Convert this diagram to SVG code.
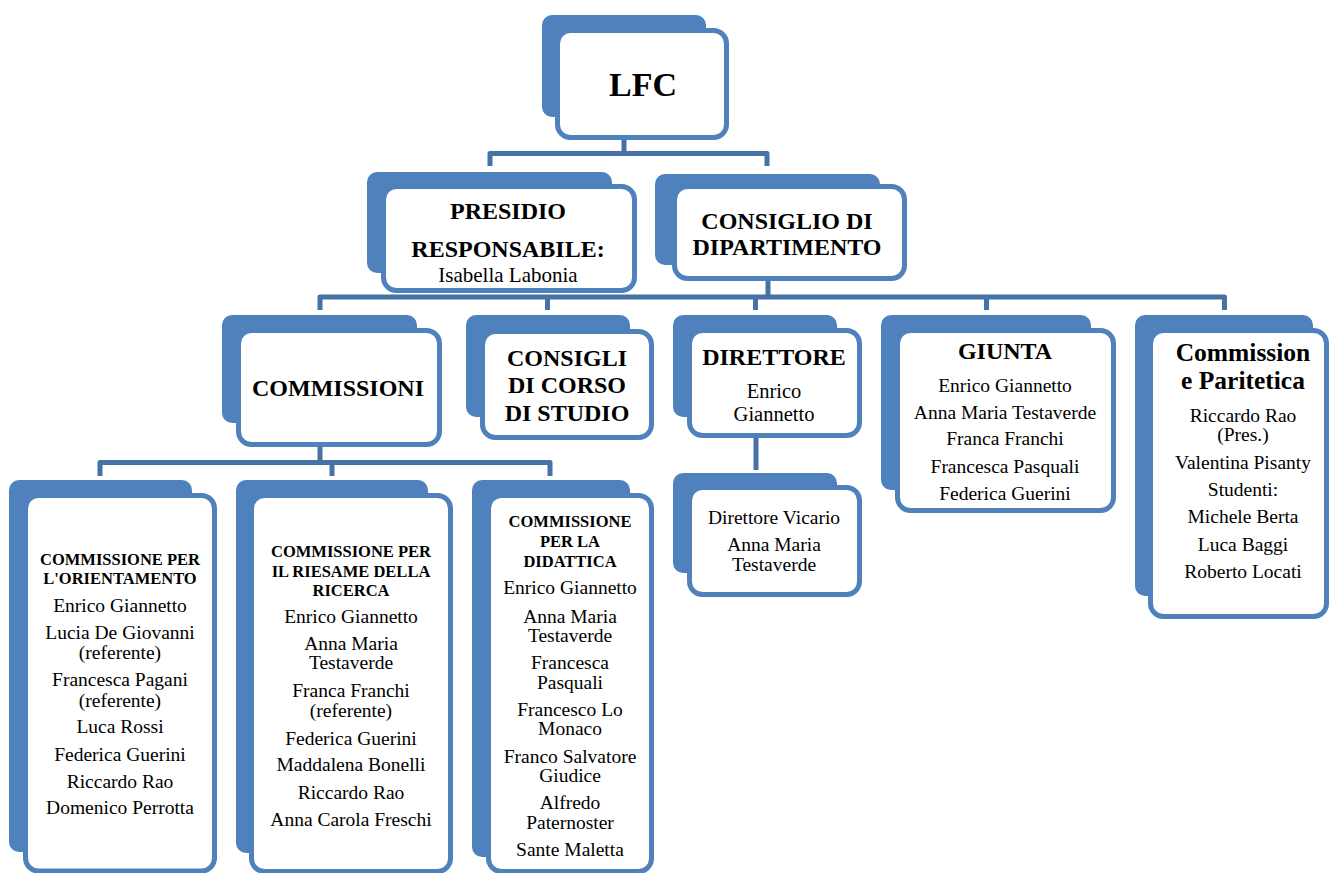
<svg xmlns="http://www.w3.org/2000/svg" width="1330" height="873" viewBox="0 0 1330 873">
<style>
.tab{fill:#4F81BD}
.box{fill:#fff;stroke:#4F81BD;stroke-width:5}
.conn{fill:none;stroke:#4672A6;stroke-width:5;stroke-linejoin:round}
text{font-family:"Liberation Serif",serif;fill:#000;text-anchor:middle}
.h{font-weight:bold;font-size:24px}
.s{font-weight:bold;font-size:16.5px}
.n{font-size:19.5px}
.m{font-size:21px}
</style>
<rect width="1330" height="873" fill="#fff"/>
<g id="connectors">
<path class="conn" d="M624 137V153.5M490 166V153.5H767V166"/>
<path class="conn" d="M768 279V297M320 310V297H1224.5V310M547.5 297V310M755.5 297V310M986.5 297V310"/>
<path class="conn" d="M320 445V462.5M100 476V462.5H550V476M332 462.5V476"/>
<path class="conn" d="M756 436V470"/>
</g>
<g id="lfc">
<rect class="tab" x="542" y="15" width="164" height="102" rx="10"/>
<rect class="box" x="557.5" y="30.5" width="169" height="107" rx="13"/>
<text x="643" y="96" style="font-weight:bold;font-size:34px">LFC</text>
</g>
<g id="presidio">
<rect class="tab" x="367" y="172" width="245" height="101" rx="10"/>
<rect class="box" x="383.5" y="186.5" width="251" height="104" rx="13"/>
<text class="h" x="508" y="219">PRESIDIO</text>
<text class="h" x="508" y="257">RESPONSABILE:</text>
<text class="m" x="508" y="282">Isabella Labonia</text>
</g>
<g id="consiglio-dipartimento">
<rect class="tab" x="655" y="174" width="225" height="91" rx="10"/>
<rect class="box" x="674.5" y="186.5" width="230" height="92" rx="13"/>
<text class="h" x="787" y="229">CONSIGLIO DI</text>
<text class="h" x="787" y="255">DIPARTIMENTO</text>
</g>
<g id="commissioni">
<rect class="tab" x="222" y="315" width="195" height="108" rx="10"/>
<rect class="box" x="238.5" y="330.5" width="201" height="114" rx="13"/>
<text class="h" x="338" y="396">COMMISSIONI</text>
</g>
<g id="consigli-corso">
<rect class="tab" x="466" y="315" width="164" height="102" rx="10"/>
<rect class="box" x="482.5" y="331.5" width="169" height="106" rx="13"/>
<text class="h" x="567" y="366">CONSIGLI</text>
<text class="h" x="567" y="393">DI CORSO</text>
<text class="h" x="567" y="421">DI STUDIO</text>
</g>
<g id="direttore">
<rect class="tab" x="673" y="315" width="164" height="102" rx="10"/>
<rect class="box" x="689.5" y="330.5" width="170" height="105" rx="13"/>
<text class="h" x="774" y="365">DIRETTORE</text>
<text x="774" y="398" style="font-size:20.5px">Enrico</text>
<text x="774" y="421" style="font-size:20.5px">Giannetto</text>
</g>
<g id="vicario">
<rect class="tab" x="673" y="473" width="164" height="100" rx="10"/>
<rect class="box" x="689.5" y="487.5" width="170" height="107" rx="13"/>
<text class="n" x="774" y="524">Direttore Vicario</text>
<text class="n" x="774" y="551">Anna Maria</text>
<text class="n" x="774" y="571">Testaverde</text>
</g>
<g id="giunta">
<rect class="tab" x="881" y="315" width="210" height="175" rx="10"/>
<rect class="box" x="897.5" y="330.5" width="216" height="180" rx="13"/>
<text class="h" x="1005" y="359">GIUNTA</text>
<text class="n" x="1005" y="392">Enrico Giannetto</text>
<text class="n" x="1005" y="419">Anna Maria Testaverde</text>
<text class="n" x="1005" y="445">Franca Franchi</text>
<text class="n" x="1005" y="473">Francesca Pasquali</text>
<text class="n" x="1005" y="500">Federica Guerini</text>
</g>
<g id="paritetica">
<rect class="tab" x="1135" y="315" width="178" height="281" rx="10"/>
<rect class="box" x="1150.5" y="330.5" width="176" height="286" rx="13"/>
<text class="h" x="1243" y="361" style="font-size:25.5px">Commission</text>
<text class="h" x="1243" y="389" style="font-size:25.5px">e Paritetica</text>
<text class="n" x="1243" y="422">Riccardo Rao</text>
<text class="n" x="1243" y="441">(Pres.)</text>
<text class="n" x="1243" y="469">Valentina Pisanty</text>
<text class="n" x="1243" y="496">Studenti:</text>
<text class="n" x="1243" y="523">Michele Berta</text>
<text class="n" x="1243" y="551">Luca Baggi</text>
<text class="n" x="1243" y="578">Roberto Locati</text>
</g>
<g id="orientamento">
<rect class="tab" x="9" y="480" width="183" height="372" rx="10"/>
<rect class="box" x="25.5" y="495.5" width="189" height="375.5" rx="13"/>
<text class="s" x="120" y="565">COMMISSIONE PER</text>
<text class="s" x="120" y="584">L'ORIENTAMENTO</text>
<text class="n" x="120" y="612">Enrico Giannetto</text>
<text class="n" x="120" y="639">Lucia De Giovanni</text>
<text class="n" x="120" y="659">(referente)</text>
<text class="n" x="120" y="686">Francesca Pagani</text>
<text class="n" x="120" y="707">(referente)</text>
<text class="n" x="120" y="733">Luca Rossi</text>
<text class="n" x="120" y="761">Federica Guerini</text>
<text class="n" x="120" y="788">Riccardo Rao</text>
<text class="n" x="120" y="814">Domenico Perrotta</text>
</g>
<g id="riesame">
<rect class="tab" x="236" y="480" width="192" height="373" rx="10"/>
<rect class="box" x="251.5" y="495.5" width="199" height="376" rx="13"/>
<text class="s" x="351" y="557">COMMISSIONE PER</text>
<text class="s" x="351" y="577">IL RIESAME DELLA</text>
<text class="s" x="351" y="596">RICERCA</text>
<text class="n" x="351" y="623">Enrico Giannetto</text>
<text class="n" x="351" y="650">Anna Maria</text>
<text class="n" x="351" y="669">Testaverde</text>
<text class="n" x="351" y="697">Franca Franchi</text>
<text class="n" x="351" y="717">(referente)</text>
<text class="n" x="351" y="745">Federica Guerini</text>
<text class="n" x="351" y="771">Maddalena Bonelli</text>
<text class="n" x="351" y="799">Riccardo Rao</text>
<text class="n" x="351" y="826">Anna Carola Freschi</text>
</g>
<g id="didattica">
<rect class="tab" x="472" y="480" width="158" height="377" rx="10"/>
<rect class="box" x="488.5" y="495.5" width="163" height="376" rx="13"/>
<text class="s" x="570" y="527">COMMISSIONE</text>
<text class="s" x="570" y="547">PER LA</text>
<text class="s" x="570" y="567">DIDATTICA</text>
<text class="n" x="570" y="594">Enrico Giannetto</text>
<text class="n" x="570" y="623">Anna Maria</text>
<text class="n" x="570" y="642">Testaverde</text>
<text class="n" x="570" y="669">Francesca</text>
<text class="n" x="570" y="689">Pasquali</text>
<text class="n" x="570" y="716">Francesco Lo</text>
<text class="n" x="570" y="735">Monaco</text>
<text class="n" x="570" y="763">Franco Salvatore</text>
<text class="n" x="570" y="782">Giudice</text>
<text class="n" x="570" y="809">Alfredo</text>
<text class="n" x="570" y="829">Paternoster</text>
<text class="n" x="570" y="856">Sante Maletta</text>
</g>
</svg>
